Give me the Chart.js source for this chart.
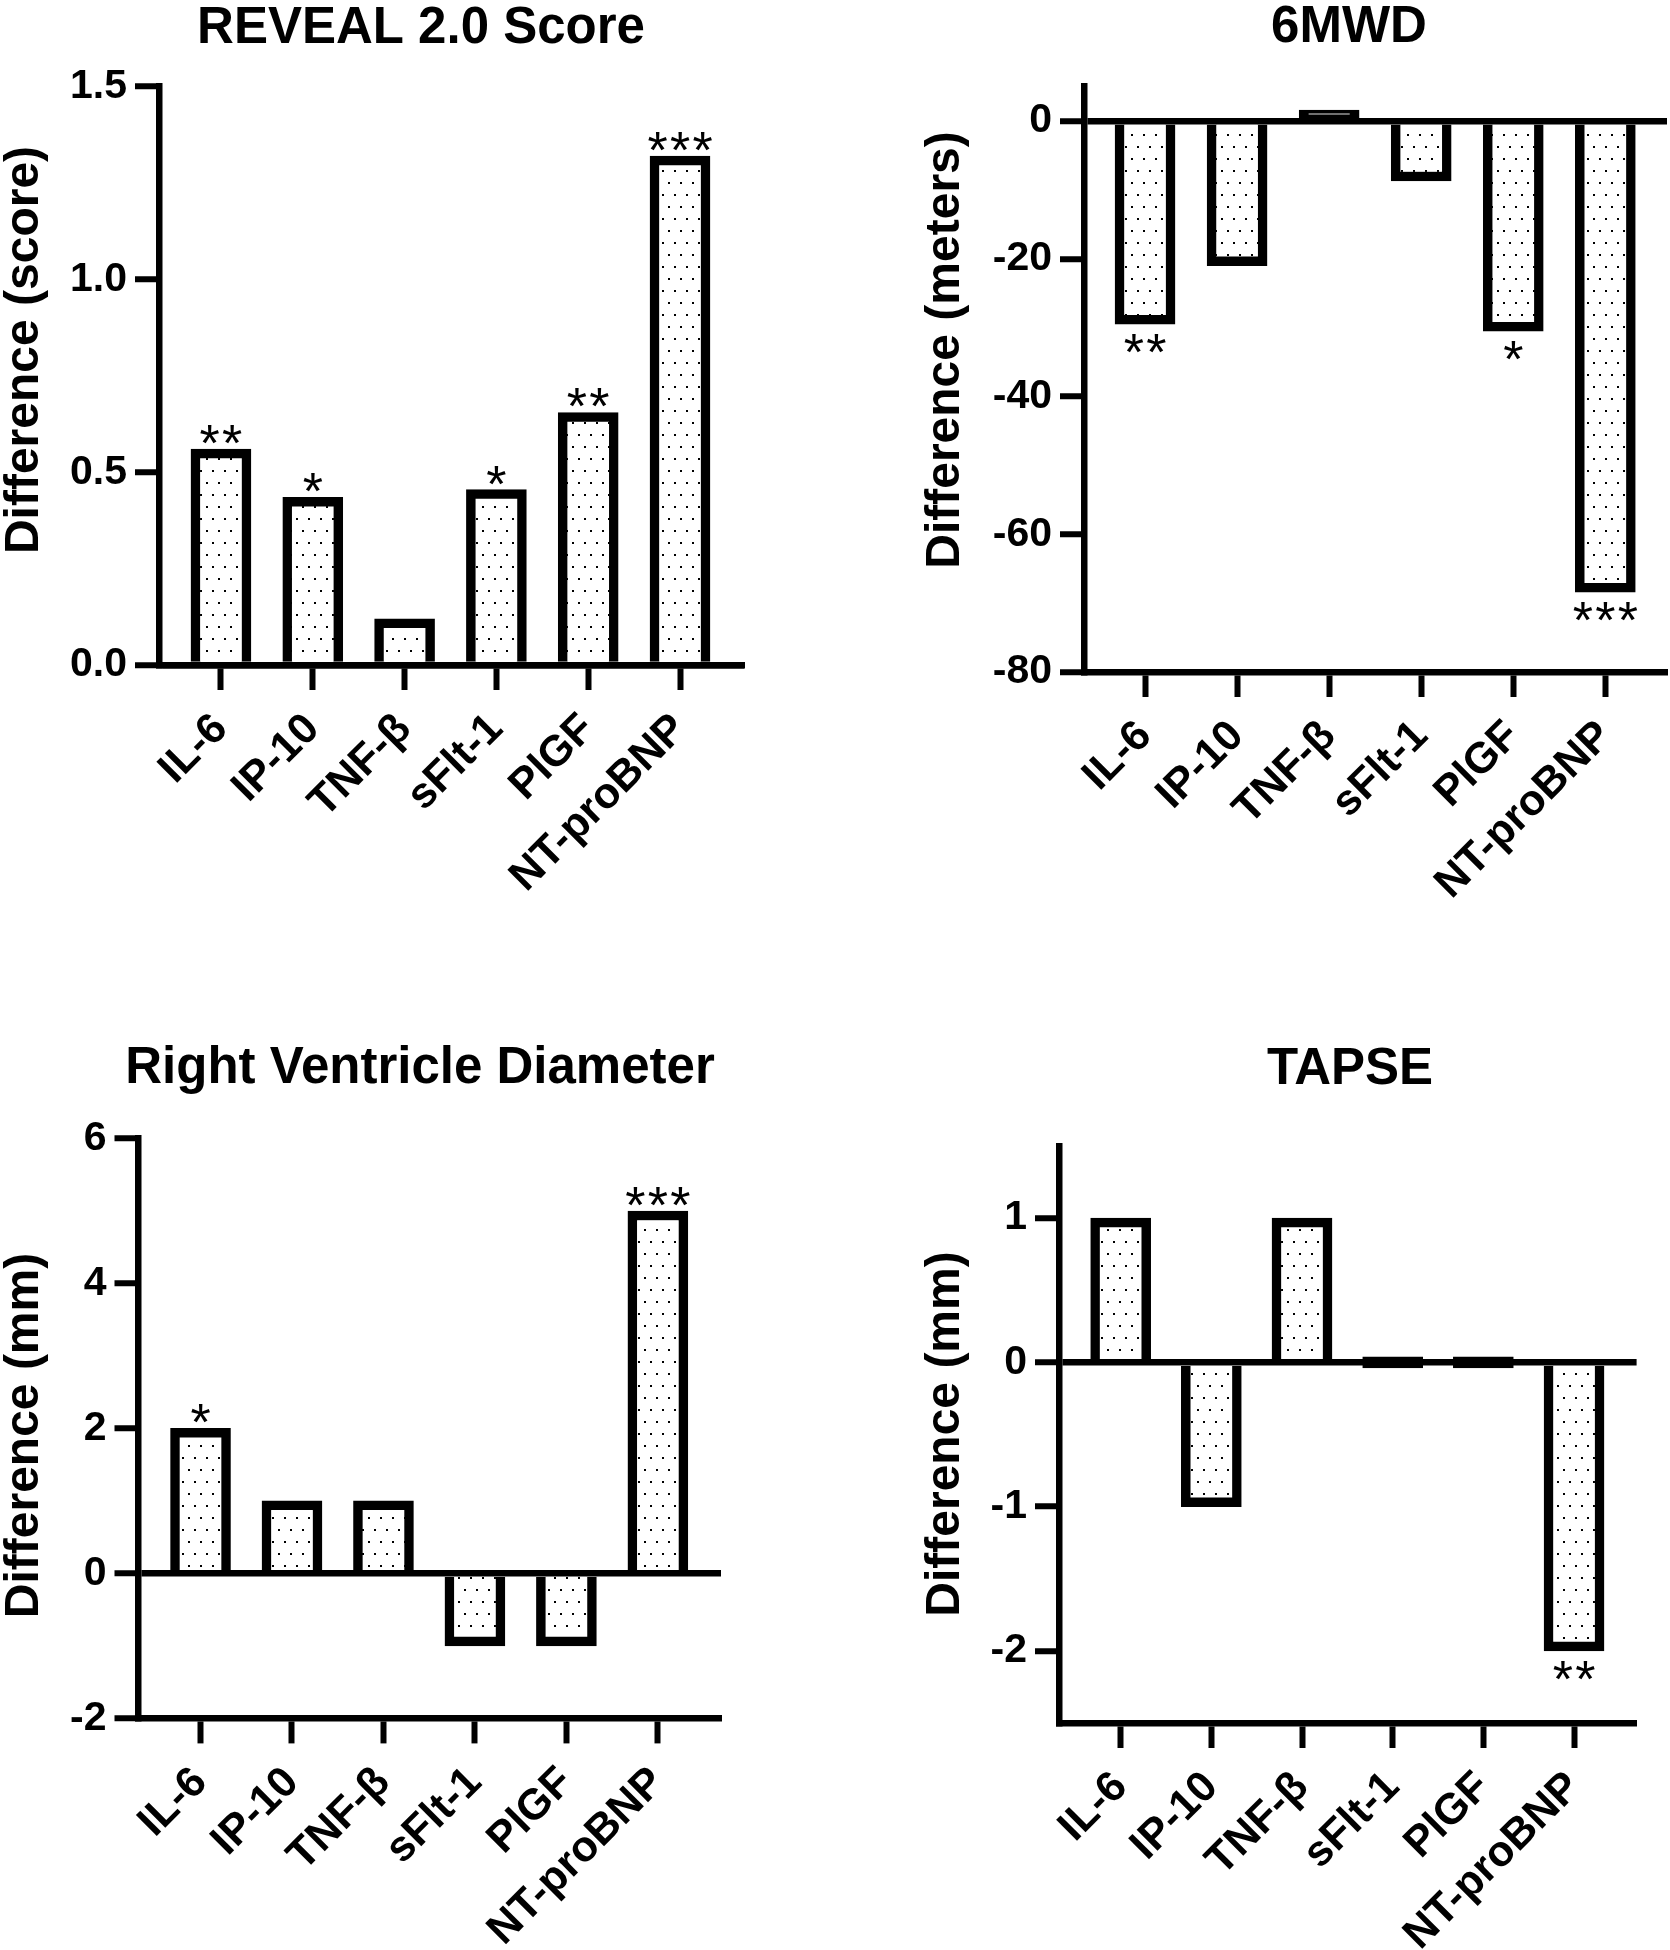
<!DOCTYPE html>
<html>
<head>
<meta charset="utf-8">
<script src="https://cdn.jsdelivr.net/npm/chart.js@4.4.1/dist/chart.umd.min.js"></script>
<style>
  html, body { margin: 0; padding: 0; background: #fff; }
  #wrap { position: relative; width: 1670px; height: 1950px; background: #fff; }
  canvas { position: absolute; }
</style>
</head>
<body>
<div id="wrap">
  <canvas id="c1" width="835" height="975" style="left:0;top:0"></canvas>
  <canvas id="c2" width="835" height="975" style="left:835px;top:0"></canvas>
  <canvas id="c3" width="835" height="975" style="left:0;top:975px"></canvas>
  <canvas id="c4" width="835" height="975" style="left:835px;top:975px"></canvas>
</div>
<script>
// categories shared by all four panels
const categories = ['IL-6', 'IP-10', 'TNF-β', 'sFlt-1', 'PlGF', 'NT-proBNP'];

// REVEAL 2.0 score
const revealValues = [0.56, 0.435, 0.12, 0.455, 0.655, 1.32];
const revealStars = ['**', '*', '', '*', '**', '***'];
const revealTicks = [0, 0.5, 1.0, 1.5];

// 6MWD
const walkValues = [-29.5, -21, 1.5, -8.7, -30.5, -68.4];
const walkStars = ['**', '', '', '', '*', '***'];
const walkTicks = [-80, -60, -40, -20, 0];

// Right ventricle diameter
const rvdValues = [2, 1, 1, -1, -1, 5];
const rvdStars = ['*', '', '', '', '', '***'];
const rvdTicks = [-2, 0, 2, 4, 6];

// TAPSE
const tapseValues = [1, -1, 1, 0, 0, -2];
const tapseStars = ['', '', '', '', '', '**'];
const tapseTicks = [-2, -1, 0, 1];

const FONT = '"Liberation Sans", Arial, Helvetica, sans-serif';
const W = 835, H = 975;

// dotted fill like the original
function dotPattern(ctx) {
    const tile = document.createElement('canvas');
    tile.width = 12;
    tile.height = 24;
    const t = tile.getContext('2d');
    t.fillStyle = '#fff';
    t.fillRect(0, 0, 12, 24);
    t.fillStyle = '#000';
    t.fillRect(2, 2, 2, 2);
    t.fillRect(8, 14, 2, 2);
    return ctx.createPattern(tile, 'repeat');
}

// chart title + y axis title
const panelText = {
    id: 'panelText',
    afterDraw(chart, args, o) {
        const ctx = chart.ctx;
        ctx.save();
        ctx.fillStyle = '#000';
        ctx.textAlign = 'center';
        ctx.textBaseline = 'alphabetic';
        ctx.font = 'bold 51px ' + FONT;
        ctx.fillText(o.title, o.tx, o.ty);
        ctx.translate(o.yx, o.yy);
        ctx.rotate(-Math.PI / 2);
        ctx.textBaseline = 'middle';
        ctx.font = 'bold 48px ' + FONT;
        ctx.fillText(o.ytitle, 0, 0);
        ctx.restore();
    }
};

// significance asterisks above / below the bars
const stars = {
    id: 'stars',
    afterDatasetsDraw(chart, args, o) {
        const ctx = chart.ctx;
        const meta = chart.getDatasetMeta(0);
        const vals = chart.data.datasets[0].data;
        ctx.save();
        ctx.fillStyle = '#000';
        ctx.textAlign = 'center';
        ctx.textBaseline = 'alphabetic';
        ctx.font = '52px ' + FONT;
        const m = ctx.measureText('*');
        const asc = m.actualBoundingBoxAscent;
        const desc = m.actualBoundingBoxDescent;
        o.marks.forEach((s, i) => {
            if (!s) return;
            const bar = meta.data[i];
            const n = s.length;
            for (let k = 0; k < n; k++) {
                const x = bar.x + (k - (n - 1) / 2) * 22.5;
                let y;
                if (vals[i].y >= 0) {
                    y = bar.y - 5 - desc;
                } else {
                    y = bar.y + 10 + asc;
                }
                ctx.fillText('*', x, y);
            }
        });
        ctx.restore();
    }
};

function makePanel(id, p) {
    const ctx = document.getElementById(id).getContext('2d');
    return new Chart(ctx, {
        type: 'bar',
        data: {
            datasets: [{
                data: p.values.map((v, i) => ({ x: i, y: v })),
                backgroundColor: dotPattern(ctx),
                borderColor: '#000',
                borderWidth: 9.5,
                barThickness: 60,
                minBarLength: 11,
                borderSkipped: (c) => {
                    const s = c.chart.scales.y;
                    const h = Math.abs(s.getPixelForValue(c.raw.y) - s.getPixelForValue(0));
                    return h < 20 ? false : 'start';
                }
            }]
        },
        options: {
            responsive: false,
            animation: false,
            devicePixelRatio: 1,
            layout: {
                padding: { left: 0, top: p.area.top, right: W - p.area.right, bottom: 0 }
            },
            plugins: {
                legend: { display: false },
                tooltip: { enabled: false },
                panelText: p.text,
                stars: { marks: p.stars }
            },
            scales: {
                x: {
                    type: 'linear',
                    min: p.xMin,
                    max: p.xMax,
                    offset: false,
                    afterFit: (s) => { s.height = H - p.area.bottom; },
                    afterBuildTicks: (s) => { s.ticks = categories.map((c, i) => ({ value: i })); },
                    grid: {
                        offset: false,
                        drawOnChartArea: false,
                        drawTicks: true,
                        tickLength: 25,
                        tickWidth: 6,
                        tickColor: '#000',
                        color: '#000'
                    },
                    border: { display: true, color: '#000', width: 6.5 },
                    ticks: {
                        autoSkip: false,
                        minRotation: 45,
                        maxRotation: 45,
                        padding: 14,
                        color: '#000',
                        font: { family: FONT, size: 43, weight: 'bold' },
                        callback: (v) => categories[v]
                    }
                },
                y: {
                    min: p.yMin,
                    max: p.yMax,
                    afterFit: (s) => { s.width = p.area.left; },
                    afterBuildTicks: (s) => { s.ticks = p.ticks.map(v => ({ value: v })); },
                    grid: {
                        z: 1,
                        drawOnChartArea: true,
                        drawTicks: true,
                        tickLength: 24,
                        tickWidth: 6,
                        tickColor: '#000',
                        lineWidth: 6.5,
                        color: (c) => (c.tick && c.tick.value === 0) ? '#000' : 'rgba(0,0,0,0)'
                    },
                    // same layer as the grid so the border position is known when drawn
                    border: { display: true, color: '#000', width: 6.5, z: 1 },
                    ticks: {
                        padding: 8,
                        color: '#000',
                        font: { family: FONT, size: 41, weight: 'bold' },
                        callback: p.fmt
                    }
                }
            }
        },
        plugins: [panelText, stars]
    });
}

makePanel('c1', {
    values: revealValues, stars: revealStars, ticks: revealTicks,
    yMin: 0, yMax: 1.5, xMin: -0.675, xMax: 5.697,
    fmt: (v) => v.toFixed(1),
    area: { left: 159, top: 86.7, right: 744, bottom: 665 },
    text: { title: 'REVEAL 2.0 Score', tx: 421, ty: 43, ytitle: 'Difference (score)', yx: 25, yy: 350 }
});

makePanel('c2', {
    values: walkValues, stars: walkStars, ticks: walkTicks,
    yMin: -80, yMax: 5, xMin: -0.663, xMax: 5.67,
    fmt: (v) => String(v),
    area: { left: 249, top: 86.7, right: 832, bottom: 672 },
    text: { title: '6MWD', tx: 514, ty: 42, ytitle: 'Difference (meters)', yx: 111, yy: 350 }
});

makePanel('c3', {
    values: rvdValues, stars: rvdStars, ticks: rvdTicks,
    yMin: -2, yMax: 6, xMin: -0.678, xMax: 5.69,
    fmt: (v) => String(v),
    area: { left: 138.5, top: 163.5, right: 721, bottom: 743.4 },
    text: { title: 'Right Ventricle Diameter', tx: 420, ty: 107.5, ytitle: 'Difference (mm)', yx: 25, yy: 460.5 }
});

makePanel('c4', {
    values: tapseValues, stars: tapseStars, ticks: tapseTicks,
    yMin: -2.5, yMax: 1.5, xMin: -0.68, xMax: 5.69,
    fmt: (v) => String(v),
    area: { left: 224, top: 171, right: 801.6, bottom: 748 },
    text: { title: 'TAPSE', tx: 515, ty: 108.6, ytitle: 'Difference (mm)', yx: 111, yy: 459 }
});
</script>
</body>
</html>
